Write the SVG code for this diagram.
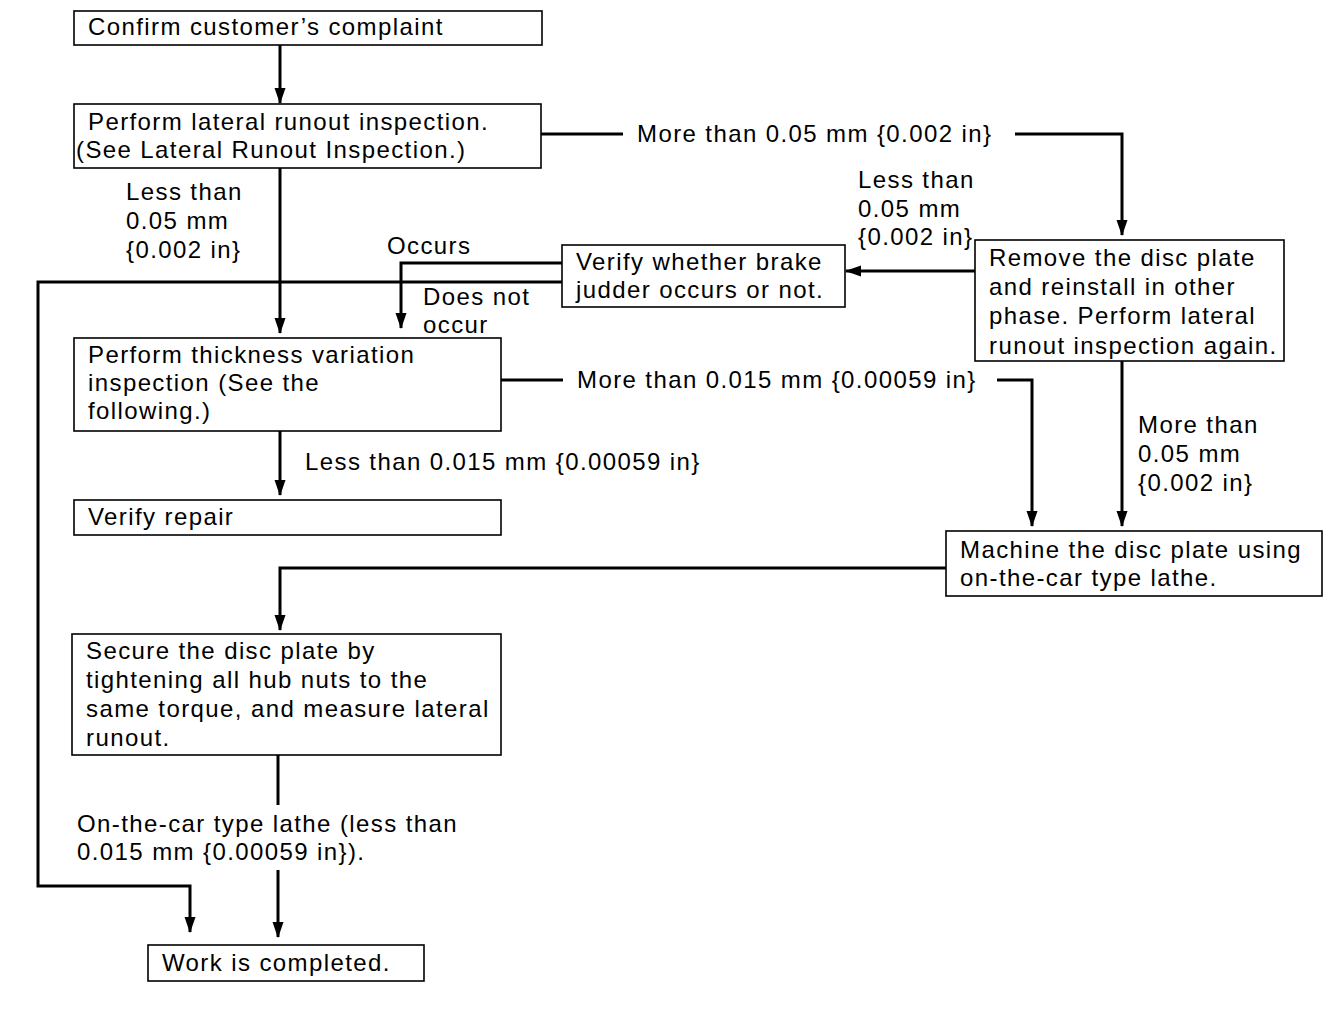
<svg xmlns="http://www.w3.org/2000/svg" width="1344" height="1010" viewBox="0 0 1344 1010">
<style>
.box{fill:#fff;stroke:#000;stroke-width:1.6}
.t{font-family:"Liberation Sans",Arial,sans-serif;font-size:24px;letter-spacing:1.4px;fill:#000}
.c{fill:none;stroke:#000;stroke-width:3}
</style>
<defs>
<marker id="ah" viewBox="0 0 16 12" refX="15" refY="6" markerWidth="16" markerHeight="12" markerUnits="userSpaceOnUse" orient="auto">
<path d="M0,0.5 L16,6 L0,11.5 z" fill="#000"/>
</marker>
</defs>
<rect width="1344" height="1010" fill="#fff"/>
<g id="connectors">
<path class="c" d="M280,45 V103" marker-end="url(#ah)"/>
<path class="c" d="M541,134 H623"/>
<path class="c" d="M1015,134 H1122 V235" marker-end="url(#ah)"/>
<path class="c" d="M975,271 H846" marker-end="url(#ah)"/>
<path class="c" d="M562,263 H401 V328" marker-end="url(#ah)"/>
<path class="c" d="M562,282 H38 V886 H190 V932" marker-end="url(#ah)"/>
<path class="c" d="M280,168 V333" marker-end="url(#ah)"/>
<path class="c" d="M501,380 H563"/>
<path class="c" d="M997,380 H1032 V526" marker-end="url(#ah)"/>
<path class="c" d="M1122,361 V526" marker-end="url(#ah)"/>
<path class="c" d="M280,431 V495" marker-end="url(#ah)"/>
<path class="c" d="M946,568 H280 V630" marker-end="url(#ah)"/>
<path class="c" d="M278,755 V805"/>
<path class="c" d="M278,870 V937" marker-end="url(#ah)"/>
</g>
<g id="labels">
<text class="t" x="637" y="142">More than 0.05 mm {0.002 in}</text>
<text class="t" x="126" y="200">Less than</text>
<text class="t" x="126" y="229">0.05 mm</text>
<text class="t" x="126" y="258">{0.002 in}</text>
<text class="t" x="858" y="188">Less than</text>
<text class="t" x="858" y="217">0.05 mm</text>
<text class="t" x="858" y="245">{0.002 in}</text>
<text class="t" x="387" y="254">Occurs</text>
<text class="t" x="423" y="305">Does not</text>
<text class="t" x="423" y="333">occur</text>
<text class="t" x="577" y="388">More than 0.015 mm {0.00059 in}</text>
<text class="t" x="305" y="470">Less than 0.015 mm {0.00059 in}</text>
<text class="t" x="1138" y="433">More than</text>
<text class="t" x="1138" y="462">0.05 mm</text>
<text class="t" x="1138" y="491">{0.002 in}</text>
<text class="t" x="77" y="832">On-the-car type lathe (less than</text>
<text class="t" x="77" y="860">0.015 mm {0.00059 in}).</text>
</g>
<g id="n1"><rect class="box" x="74" y="11" width="468" height="34"/><text class="t" x="88" y="35">Confirm customer’s complaint</text></g>
<g id="n2"><rect class="box" x="74" y="104" width="467" height="64"/><text class="t" x="88" y="130">Perform lateral runout inspection.</text><text class="t" x="76" y="158">(See Lateral Runout Inspection.)</text></g>
<g id="n3"><rect class="box" x="562" y="245" width="283" height="62"/><text class="t" x="576" y="270">Verify whether brake</text><text class="t" x="576" y="298">judder occurs or not.</text></g>
<g id="n4"><rect class="box" x="975" y="240" width="309" height="121"/><text class="t" x="989" y="266">Remove the disc plate</text><text class="t" x="989" y="295">and reinstall in other</text><text class="t" x="989" y="324">phase. Perform lateral</text><text class="t" x="989" y="354">runout inspection again.</text></g>
<g id="n5"><rect class="box" x="74" y="338" width="427" height="93"/><text class="t" x="88" y="363">Perform thickness variation</text><text class="t" x="88" y="391">inspection (See the</text><text class="t" x="88" y="419">following.)</text></g>
<g id="n6"><rect class="box" x="74" y="500" width="427" height="35"/><text class="t" x="88" y="525">Verify repair</text></g>
<g id="n7"><rect class="box" x="946" y="531" width="376" height="65"/><text class="t" x="960" y="558">Machine the disc plate using</text><text class="t" x="960" y="586">on-the-car type lathe.</text></g>
<g id="n8"><rect class="box" x="72" y="634" width="429" height="121"/><text class="t" x="86" y="659">Secure the disc plate by</text><text class="t" x="86" y="688">tightening all hub nuts to the</text><text class="t" x="86" y="717">same torque, and measure lateral</text><text class="t" x="86" y="746">runout.</text></g>
<g id="n9"><rect class="box" x="148" y="945" width="276" height="36"/><text class="t" x="162" y="971">Work is completed.</text></g>
</svg>
